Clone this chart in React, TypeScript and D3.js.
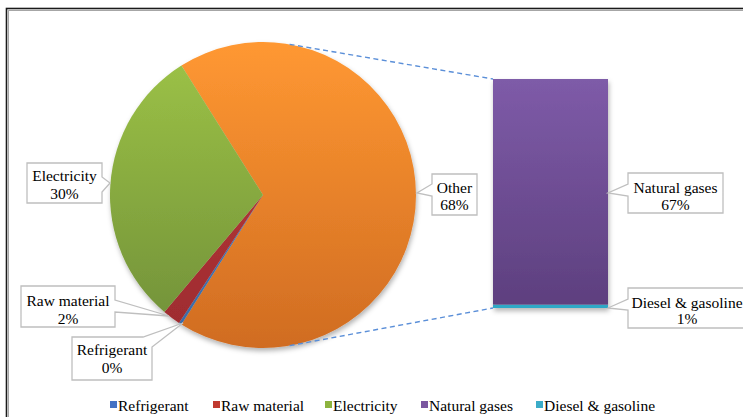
import React from 'react';
import * as d3 from 'd3';

const pieCategories = ['Other', 'Refrigerant', 'Raw material', 'Electricity'];
const pieValues = [67.9, 0.3, 1.9, 29.9];
const barCategories = ['Diesel & gasoline', 'Natural gases'];
const barValues = [1.0, 66.9];
const legendLabels = ['Refrigerant', 'Raw material', 'Electricity', 'Natural gases', 'Diesel & gasoline'];
const legendColors = ['#4472C4', '#C0392F', '#8DB33F', '#7B57A0', '#3BACC8'];

const W = 743, H = 417;
const FONT = "'Liberation Serif', 'Times New Roman', 'DejaVu Serif', serif";
const FS = 15.5;

const cx = 263, cy = 195, R = 153;
const barX0 = 493, barX1 = 608, barTop = 79, barBottom = 308;

const sliceGrad: Record<string, [string, string]> = {
  'Other': ['#FF9832', '#D06C22'],
  'Refrigerant': ['#4F81BD', '#3A6AA6'],
  'Raw material': ['#C0393C', '#9C2B2E'],
  'Electricity': ['#9EC447', '#6F8E38'],
};

function callout(x0: number, y0: number, x1: number, y1: number, side: string, a: number, b: number, tx: number, ty: number) {
  if (side === 'left') {
    return `M${x0},${y0}H${x1}V${y1}H${x0}V${b}L${tx},${ty}L${x0},${a}Z`;
  }
  if (side === 'right') {
    return `M${x0},${y0}H${x1}V${a}L${tx},${ty}L${x1},${b}V${y1}H${x0}Z`;
  }
  return `M${x0},${y0}H${a}L${tx},${ty}L${x1},${b}V${y1}H${x0}Z`;
}

export default function App() {
  const total = d3.sum(pieValues);
  const otherFrac = pieValues[0] / total;
  const start = Math.PI / 2 - otherFrac * Math.PI;
  const pie = d3.pie<number>().sort(null).startAngle(start).endAngle(start + 2 * Math.PI);
  const arcs = pie(pieValues);
  const arc = d3.arc<d3.PieArcDatum<number>>().innerRadius(0).outerRadius(R);

  const y = d3.scaleLinear().domain([0, d3.sum(barValues)]).range([barBottom, barTop]);
  let acc = 0;
  const bars = barValues.map((v, i) => {
    const b = { name: barCategories[i], y0: y(acc), y1: y(acc + v) };
    acc += v;
    return b;
  });

  const pct = (v: number) => `${Math.round(v / total * 100)}%`;
  const ang1 = (10 * Math.PI) / 180, ang2 = (170 * Math.PI) / 180;
  const p1 = [cx + R * Math.sin(ang1), cy - R * Math.cos(ang1)];
  const p2 = [cx + R * Math.sin(ang2), cy - R * Math.cos(ang2)];

  const labels = [
    { lines: ['Electricity', pct(pieValues[3])], box: [27, 163, 102, 203], side: 'right', a: 177, b: 192, tip: [110, 183], cx: 64.5, ly: [175, 193] },
    { lines: ['Raw material', pct(pieValues[2])], box: [21, 286, 115, 327], side: 'right', a: 300, b: 312, tip: [169, 316], cx: 68, ly: [300, 318] },
    { lines: ['Refrigerant', pct(pieValues[1])], box: [72, 337, 152, 380], side: 'corner', a: 143, b: 347, tip: [183, 323], cx: 112, ly: [349, 367] },
    { lines: ['Other', pct(pieValues[0])], box: [432, 174, 477, 215], side: 'left', a: 184, b: 196, tip: [417, 193], cx: 454.5, ly: [187, 204] },
    { lines: ['Natural gases', pct(barValues[1])], box: [628, 173, 723, 213], side: 'left', a: 184, b: 196, tip: [608, 193], cx: 675.5, ly: [187, 204] },
    { lines: ['Diesel & gasoline', pct(barValues[0])], box: [628, 288, 760, 328], side: 'left', a: 299, b: 310, tip: [608, 308], cx: 687, ly: [302, 318] },
  ];

  const legendX = [110, 213, 325, 421, 536];
  const ts: React.CSSProperties = { fontFamily: FONT, fontSize: FS };

  return (
    <svg width={W} height={H} style={{ position: 'absolute', left: 0, top: 0, background: '#fff' }}>
      <defs>
        {pieCategories.map((c, i) => (
          <linearGradient key={c} id={`pg${i}`} gradientUnits="userSpaceOnUse" x1={0} y1={-R} x2={0} y2={R}>
            <stop offset="0" stopColor={sliceGrad[c][0]} />
            <stop offset="1" stopColor={sliceGrad[c][1]} />
          </linearGradient>
        ))}
        <linearGradient id="barPurple" gradientUnits="userSpaceOnUse" x1={0} y1={barTop} x2={0} y2={barBottom}>
          <stop offset="0" stopColor="#7E5BA8" />
          <stop offset="1" stopColor="#5D3F7E" />
        </linearGradient>
        <filter id="shadow" x="-10%" y="-10%" width="120%" height="125%">
          <feDropShadow dx="1" dy="3" stdDeviation="2.5" floodColor="#000" floodOpacity="0.3" />
        </filter>
      </defs>
      <rect x={6.5} y={8.5} width={800} height={500} fill="#fff" stroke="#1a1a1a" strokeWidth={1.6} />
      <rect x={8.5} y={10.5} width={800} height={500} fill="none" stroke="#a6a6a6" strokeWidth={1} />

      <g filter="url(#shadow)">
        <g transform={`translate(${cx},${cy})`}>
          {arcs.map((a, i) => (
            <path key={pieCategories[i]} d={arc(a) || ''} fill={`url(#pg${i})`} />
          ))}
        </g>
      </g>

      <g filter="url(#shadow)">
        {bars.map((b, i) => (
          <rect key={b.name} x={barX0} y={b.y1} width={barX1 - barX0} height={b.y0 - b.y1}
            fill={i === 1 ? 'url(#barPurple)' : '#2FA8C6'} />
        ))}
      </g>

      <line x1={p1[0]} y1={p1[1]} x2={barX0} y2={barTop} stroke="#5B8FD8" strokeWidth={1.4} strokeDasharray="5,3.5" />
      <line x1={p2[0]} y1={p2[1]} x2={barX0} y2={barBottom} stroke="#5B8FD8" strokeWidth={1.4} strokeDasharray="5,3.5" />

      {labels.map(l => (
        <g key={l.lines[0]}>
          <path d={callout(l.box[0], l.box[1], l.box[2], l.box[3], l.side, l.a, l.b, l.tip[0], l.tip[1])}
            fill="#fff" stroke="#BFBFBF" strokeWidth={1.3} />
          {l.lines.map((t, j) => (
            <text key={j} x={l.cx} y={l.ly[j]} textAnchor="middle" dominantBaseline="central" style={ts} fill="#000">{t}</text>
          ))}
        </g>
      ))}

      {legendLabels.map((t, i) => (
        <g key={t}>
          <rect x={legendX[i]} y={401} width={7} height={7} fill={legendColors[i]} />
          <text x={legendX[i] + 8} y={405} dominantBaseline="central" style={ts} fill="#000">{t}</text>
        </g>
      ))}
    </svg>
  );
}
